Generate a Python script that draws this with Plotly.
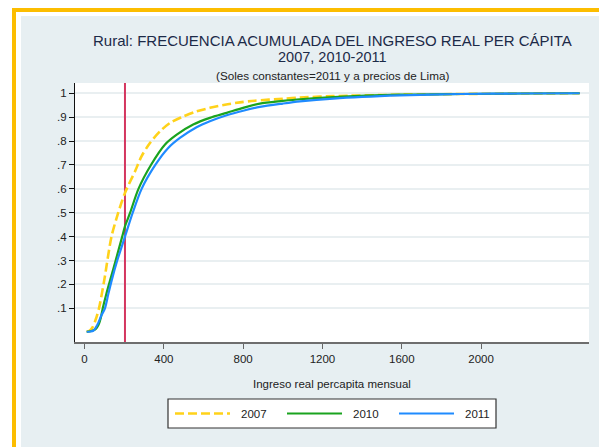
import plotly.graph_objects as go

# ---------------- data ----------------
x_2007 = [11, 25, 40, 55, 73, 100, 136, 170, 204, 255, 288, 330, 381, 431, 490, 557, 632, 708, 784,
          859, 1000, 1086, 1254, 1590, 1900, 2200, 2497]
y_2007 = [0.002, 0.006, 0.02, 0.05, 0.10, 0.22, 0.40, 0.50, 0.583, 0.674, 0.737, 0.792, 0.841, 0.876,
          0.90, 0.922, 0.939, 0.952, 0.962, 0.969, 0.977, 0.982, 0.988, 0.994, 0.997, 0.999, 1.0]

x_2010 = [11, 30, 45, 58, 70, 82, 92, 110, 130, 157, 190, 204, 230, 272, 335, 405, 465, 548, 632,
          717, 800, 884, 1000, 1086, 1254, 1590, 1900, 2200, 2497]
y_2010 = [0.002, 0.004, 0.008, 0.015, 0.03, 0.06, 0.10, 0.16, 0.22, 0.30, 0.40, 0.443, 0.50, 0.60,
          0.70, 0.785, 0.827, 0.869, 0.897, 0.918, 0.939, 0.957, 0.968, 0.975, 0.984, 0.994, 0.997,
          0.999, 1.0]

x_2011 = [11, 30, 44, 56, 70, 85, 103, 120, 138, 165, 204, 243, 288, 357, 422, 481, 565, 632, 717,
          800, 884, 1000, 1086, 1254, 1590, 1900, 2200, 2497]
y_2011 = [0.002, 0.003, 0.006, 0.018, 0.04, 0.07, 0.10, 0.16, 0.22, 0.30, 0.40, 0.50, 0.60, 0.70,
          0.771, 0.813, 0.858, 0.883, 0.908, 0.927, 0.943, 0.957, 0.966, 0.978, 0.991, 0.997, 0.999,
          1.0]

poverty_line = 204

series_names = ["2007", "2010", "2011"]
x_ticks = [0, 400, 800, 1200, 1600, 2000]
y_ticks = [0.1, 0.2, 0.3, 0.4, 0.5, 0.6, 0.7, 0.8, 0.9, 1.0]
y_ticktext = [".1", ".2", ".3", ".4", ".5", ".6", ".7", ".8", ".9", "1"]

title_line1 = "Rural: FRECUENCIA ACUMULADA DEL INGRESO REAL PER CÁPITA"
title_line2 = "2007, 2010-2011"
subtitle = "(Soles constantes=2011 y a precios de Lima)"
x_title = "Ingreso real percapita mensual"

# ---------------- styling ----------------
YELLOW = "#ffd21a"
GREEN = "#1aa31f"
BLUE = "#1f8bff"
RED = "#d4365f"
BG = "#e7eff2"
BORDER = "#fcbd00"
FONT = "Liberation Sans, Arial, sans-serif"
TXT = "#222222"

W, H = 599, 447
L, R, T, B = 75, 10, 83, 105
PW, PH = W - L - R, H - T - B


def px(xp):
    return (xp - L) / PW


def py(yp):
    return (H - B - yp) / PH


fig = go.Figure()

# vertical reference line (poverty line)
fig.add_trace(go.Scatter(x=[poverty_line, poverty_line], y=[-0.041, 1.043], mode="lines",
                         line=dict(color=RED, width=2), showlegend=False, hoverinfo="skip"))

styles = [dict(color=YELLOW, width=2.6, dash="9px,4px"),
          dict(color=GREEN, width=2.2),
          dict(color=BLUE, width=2.2)]
for name, xs, ys, st in zip(series_names, [x_2007, x_2010, x_2011], [y_2007, y_2010, y_2011], styles):
    fig.add_trace(go.Scatter(x=xs, y=ys, mode="lines", name=name,
                             line=dict(shape="spline", smoothing=0.8, **st),
                             showlegend=False))

shapes = []
# white frame outside background + yellow border
shapes.append(dict(type="rect", xref="paper", yref="paper", x0=px(-10), x1=px(21), y0=py(460), y1=py(-10),
                   fillcolor="white", line=dict(width=0), layer="below"))
shapes.append(dict(type="rect", xref="paper", yref="paper", x0=px(-10), x1=px(620), y0=py(16), y1=py(-10),
                   fillcolor="white", line=dict(width=0), layer="below"))
shapes.append(dict(type="line", xref="paper", yref="paper", x0=px(14), x1=px(14), y0=py(460), y1=py(8),
                   line=dict(color=BORDER, width=4)))
shapes.append(dict(type="line", xref="paper", yref="paper", x0=px(12), x1=px(620), y0=py(10), y1=py(10),
                   line=dict(color=BORDER, width=4)))

# legend (manual, to match the reference layout)
lg_y0, lg_y1 = 399, 428
lg_mid = (lg_y0 + lg_y1) / 2
shapes.append(dict(type="rect", xref="paper", yref="paper", x0=px(168), x1=px(496), y0=py(lg_y1), y1=py(lg_y0),
                   fillcolor="white", line=dict(color="#333333", width=1.2)))
sample_x = [175, 287, 399]
text_x = [238.5, 350.5, 463]
for sx, st in zip(sample_x, styles):
    shapes.append(dict(type="line", xref="paper", yref="paper", x0=px(sx), x1=px(sx + 55),
                       y0=py(lg_mid), y1=py(lg_mid),
                       line=dict(color=st["color"], width=st["width"], dash=st.get("dash", "solid"))))

annotations = []
for tx, name in zip(text_x, series_names):
    annotations.append(dict(x=px(tx), y=py(lg_mid), xref="paper", yref="paper", text=name, showarrow=False,
                            xanchor="left", yanchor="middle", font=dict(family=FONT, size=11.5, color=TXT)))

annotations.append(dict(x=0.5, y=py(40), xref="paper", yref="paper", text=title_line1, showarrow=False,
                        xanchor="center", yanchor="middle", font=dict(family=FONT, size=15, color="#1c2a48")))
annotations.append(dict(x=0.5, y=py(57), xref="paper", yref="paper", text=title_line2, showarrow=False,
                        xanchor="center", yanchor="middle", font=dict(family=FONT, size=14.5, color="#1c2a48")))
annotations.append(dict(x=0.5, y=py(75.5), xref="paper", yref="paper", text=subtitle, showarrow=False,
                        xanchor="center", yanchor="middle", font=dict(family=FONT, size=11.7, color=TXT)))
annotations.append(dict(x=0.5, y=py(384), xref="paper", yref="paper", text=x_title, showarrow=False,
                        xanchor="center", yanchor="middle", font=dict(family=FONT, size=11.5, color=TXT)))

fig.update_layout(
    width=W, height=H,
    margin=dict(l=L, r=R, t=T, b=B, pad=0),
    paper_bgcolor=BG, plot_bgcolor="white",
    shapes=shapes, annotations=annotations,
    showlegend=False,
    font=dict(family=FONT, size=11, color=TXT),
)
fig.update_xaxes(range=[-48, 2544], tickvals=x_ticks, ticks="outside", ticklen=5, tickcolor="#666666",
                 tickwidth=1.2, showline=True, linecolor="#6e6e6e", linewidth=1.8, showgrid=False,
                 zeroline=False, tickfont=dict(family=FONT, size=11.5, color=TXT))
fig.update_yaxes(range=[-0.041, 1.043], tickvals=y_ticks, ticktext=y_ticktext, ticks="outside", ticklen=5,
                 tickcolor="#111111", showline=True, linecolor="#111111", linewidth=1.2, showgrid=True,
                 gridcolor="#e9eff1", gridwidth=1.5, zeroline=False,
                 tickfont=dict(family=FONT, size=11.5, color=TXT))

fig.write_html("out.html", config={"displayModeBar": False},
               post_script="document.body.style.margin='0';document.body.style.padding='0';"
                           "document.body.style.overflow='hidden';")
